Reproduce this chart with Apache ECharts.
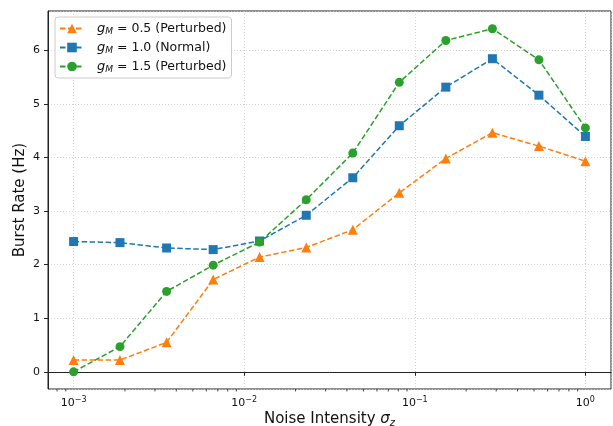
<!DOCTYPE html>
<html>
<head>
<meta charset="utf-8">
<script src="https://cdn.jsdelivr.net/npm/echarts@6/dist/echarts.min.js"></script>
<style>
  html, body { margin: 0; padding: 0; background: #fff; }
  #main { width: 613px; height: 426px; }
</style>
</head>
<body>
<div id="main"></div>
<script>
// noise levels (log spaced 1e-3 .. 1)
const sigma = [0.001, 0.00187, 0.00351, 0.00658, 0.0123, 0.0231, 0.0433, 0.0811, 0.152, 0.285, 0.534, 1.0];
const rateLow = [0.22, 0.22, 0.55, 1.72, 2.14, 2.32, 2.65, 3.34, 3.98, 4.46, 4.21, 3.93];
const rateNormal = [2.43, 2.41, 2.31, 2.28, 2.44, 2.92, 3.62, 4.59, 5.31, 5.84, 5.16, 4.39];
const rateHigh = [0.0, 0.47, 1.50, 1.99, 2.42, 3.21, 4.08, 5.40, 6.18, 6.40, 5.82, 4.55];
const seriesNames = ['low', 'normal', 'high'];
const legendText = {
    low: '{i|g}{s|M}{n| = 0.5 (Perturbed)}',
    normal: '{i|g}{s|M}{n| = 1.0 (Normal)}',
    high: '{i|g}{s|M}{n| = 1.5 (Perturbed)}'
};
// minor ticks of the log axis
const minorTicks = [0.0008, 0.0009,
    0.002, 0.003, 0.004, 0.005, 0.006, 0.007, 0.008, 0.009,
    0.02, 0.03, 0.04, 0.05, 0.06, 0.07, 0.08, 0.09,
    0.2, 0.3, 0.4, 0.5, 0.6, 0.7, 0.8, 0.9];

const xMin = Math.pow(10, -3.15), xMax = Math.pow(10, 0.15);
const yMin = -0.32, yMax = 6.73;

const chart = echarts.init(document.getElementById('main'));

function pairs(ys) {
    return sigma.map((x, i) => [x, ys[i]]);
}

function lineSeries(name, ys, color, symbol, size) {
    return {
        name: name,
        type: 'line',
        data: pairs(ys),
        symbol: symbol,
        symbolSize: size,
        itemStyle: { color: color },
        lineStyle: { color: color, width: 1.5, type: [5.5, 2.5] },
        z: 3
    };
}

const option = {
    animation: false,
    textStyle: { fontFamily: 'DejaVu Sans' },
    grid: {
        left: 48, right: 2, top: 11, bottom: 37,
        outerBoundsMode: 'none',
        containLabel: false,
        show: true, borderColor: '#222', borderWidth: 1
    },
    legend: {
        data: seriesNames,
        orient: 'vertical',
        left: 55, top: 17,
        padding: [5, 5, 4, 4],
        itemWidth: 24, itemHeight: 12, itemGap: 5,
        backgroundColor: 'rgba(255,255,255,0.85)',
        borderColor: '#ccc', borderWidth: 1, borderRadius: 3,
        formatter: n => legendText[n],
        textStyle: {
            color: '#111',
            rich: {
                i: { fontSize: 13, fontStyle: 'italic', fontFamily: 'DejaVu Sans', padding: [0, 0, 0, 8] },
                s: { fontSize: 9, fontStyle: 'italic', fontFamily: 'DejaVu Sans', verticalAlign: 'bottom', padding: [6, 0, 0, 0] },
                n: { fontSize: 12.5, fontFamily: 'DejaVu Sans' }
            }
        }
    },
    xAxis: {
        type: 'log',
        logBase: 10,
        min: xMin, max: xMax,
        name: '{n|Noise Intensity }{i|\u03c3}{s|z}',
        nameLocation: 'middle',
        nameGap: 22,
        nameMoveOverlap: false,
        nameTextStyle: {
            rich: {
                n: { fontSize: 15, color: '#111', fontFamily: 'DejaVu Sans' },
                i: { fontSize: 15, color: '#111', fontStyle: 'italic', fontFamily: 'DejaVu Sans' },
                s: { fontSize: 10, color: '#111', fontStyle: 'italic', fontFamily: 'DejaVu Sans', verticalAlign: 'bottom', padding: [7, 0, 0, 0] }
            }
        },
        axisLine: { show: true, lineStyle: { color: '#222' } },
        axisTick: { show: true, length: 4, lineStyle: { color: '#222' } },
        axisLabel: {
            showMinLabel: false, showMaxLabel: false,
            margin: 7,
            formatter: v => {
                const e = Math.log10(v);
                if (Math.abs(e - Math.round(e)) > 1e-6) return '';
                return '{b|10}{p|' + String(Math.round(e)).split('').map(c => c === '-' ? '\u2212' : c).join('') + '}';
            },
            rich: {
                b: { fontSize: 11, color: '#111', fontFamily: 'DejaVu Sans' },
                p: { fontSize: 8, color: '#111', fontFamily: 'DejaVu Sans', verticalAlign: 'top', padding: [0, 0, 6, 0] }
            }
        },
        splitLine: { show: true, lineStyle: { color: '#c8c8c8', width: 0.8, type: [1, 2] } }
    },
    yAxis: {
        type: 'value',
        min: yMin, max: yMax,
        splitNumber: 7,
        name: 'Burst Rate (Hz)',
        nameLocation: 'middle',
        nameGap: 20,
        nameMoveOverlap: false,
        nameTextStyle: { fontSize: 15, color: '#111', fontFamily: 'DejaVu Sans' },
        axisLine: { show: true, lineStyle: { color: '#222' } },
        axisTick: { show: true, length: 4, lineStyle: { color: '#222' } },
        axisLabel: {
            showMinLabel: false, showMaxLabel: false,
            fontSize: 11, color: '#111', margin: 8,
            formatter: v => Number.isInteger(v) ? String(v) : ''
        },
        splitLine: { show: true, lineStyle: { color: '#c8c8c8', width: 0.8, type: [1, 2] } }
    },
    series: [
        lineSeries('low', rateLow, '#ff7f0e', 'triangle', 10),
        lineSeries('normal', rateNormal, '#1f77b4', 'rect', 9),
        lineSeries('high', rateHigh, '#2ca02c', 'circle', 9),
        {
            type: 'custom',
            name: 'minor',
            silent: true,
            clip: false,
            data: minorTicks.map(v => [v, yMin]),
            renderItem: (params, api) => {
                const p = api.coord([api.value(0), api.value(1)]);
                return {
                    type: 'line',
                    shape: { x1: p[0], y1: p[1], x2: p[0], y2: p[1] + 2.5 },
                    style: { stroke: '#222', lineWidth: 0.8 }
                };
            }
        }
    ]
};

chart.setOption(option);
</script>
</body>
</html>
